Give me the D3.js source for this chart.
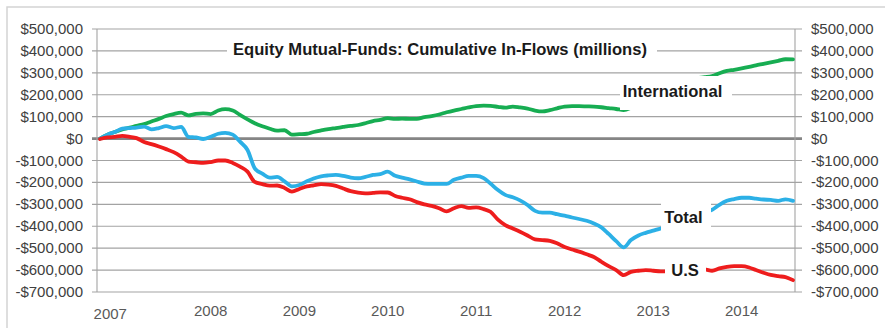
<!DOCTYPE html>
<html><head><meta charset="utf-8">
<script src="https://cdn.jsdelivr.net/npm/d3@7/dist/d3.min.js"></script>
<style>body{margin:0;background:#fff}svg{display:block}</style>
</head><body><svg id="c" width="885" height="328"></svg>
<script>
// ---- data (thousands of $ millions, monthly from Oct 2006) ----
const startMonth = [2006, 9];
const international = [0,18,30,42,50,58,66,78,90,103,112,118,106,113,115,112,128,134,128,108,88,70,56,45,36,38,18,20,22,30,37,43,48,53,58,62,70,80,85,93,90,91,90,90,98,103,110,120,128,135,142,148,150,149,145,141,146,142,137,128,124,130,138,146,148,148,147,146,143,139,135,130,141,160,185,205,225,240,252,262,270,276,280,285,298,309,314,320,327,334,341,348,355,362,361];
const total = [0,18,30,45,48,50,55,42,48,57,48,53,8,5,-2,8,22,26,18,-14,-52,-136,-160,-178,-175,-195,-218,-212,-195,-182,-172,-168,-166,-170,-178,-181,-175,-166,-162,-151,-170,-178,-186,-196,-205,-207,-207,-207,-188,-178,-170,-170,-180,-205,-235,-257,-268,-282,-303,-330,-338,-338,-345,-352,-360,-367,-375,-387,-405,-435,-468,-496,-463,-442,-430,-420,-410,-400,-385,-370,-355,-345,-335,-325,-302,-284,-276,-270,-270,-274,-278,-280,-284,-277,-284];
const us = [-2,5,8,12,8,2,-16,-25,-36,-48,-62,-82,-105,-108,-111,-107,-100,-100,-111,-128,-151,-198,-208,-215,-214,-225,-242,-230,-218,-213,-208,-210,-216,-228,-240,-247,-250,-248,-245,-246,-262,-270,-277,-290,-300,-307,-318,-332,-318,-308,-316,-314,-322,-334,-370,-395,-410,-425,-442,-460,-463,-467,-478,-495,-506,-516,-528,-540,-562,-582,-600,-623,-608,-603,-600,-603,-606,-606,-604,-602,-600,-598,-597,-603,-592,-585,-582,-582,-588,-600,-612,-622,-628,-632,-646];
const yTicks = [500000,400000,300000,200000,100000,0,-100000,-200000,-300000,-400000,-500000,-600000,-700000];
const years = [2007,2008,2009,2010,2011,2012,2013,2014];
const title = "Equity Mutual-Funds: Cumulative In-Flows (millions)";
const seriesNames = ["International","Total","U.S"];

// ---- setup ----
const svg = d3.select("#c");
const L = 97, R = 795, T = 29, B = 292;
const months = total.map((_, i) => new Date(startMonth[0], startMonth[1] + i, 1));
const x = d3.scaleTime().domain([months[0], months[months.length - 1]]).range([100, 793]);
const y = d3.scaleLinear().domain([-700000, 500000]).range([B, T]);
const fmt = v => (v < 0 ? "-" : "") + "$" + d3.format(",")(Math.abs(v));

// outer frame
svg.append("rect").attr("x", 7).attr("y", 7).attr("width", 890).attr("height", 340)
  .attr("fill", "none").attr("stroke", "#d4d4d4").attr("stroke-width", 1.5);

// gridlines
svg.append("g").selectAll("line").data(yTicks.filter(d => d !== 0)).join("line")
  .attr("x1", L - 5).attr("x2", R + 7)
  .attr("y1", d => y(d)).attr("y2", d => y(d))
  .attr("stroke", "#a3a3a3").attr("stroke-width", 1.1);
svg.append("line").attr("x1", L - 5).attr("x2", R + 7).attr("y1", y(0)).attr("y2", y(0))
  .attr("stroke", "#858585").attr("stroke-width", 2.6);
// vertical axes
[L, R].forEach(xx => svg.append("line").attr("x1", xx).attr("x2", xx).attr("y1", T).attr("y2", B)
  .attr("stroke", "#a3a3a3").attr("stroke-width", 1.1));

// y labels
const lab = svg.append("g").attr("font-family", "Liberation Sans, Arial, sans-serif").attr("font-size", 15).attr("fill", "#404040");
lab.selectAll("text.l").data(yTicks).join("text").attr("class", "l")
  .attr("x", 83).attr("y", d => y(d) + 5).attr("text-anchor", "end").text(fmt);
lab.selectAll("text.r").data(yTicks).join("text").attr("class", "r")
  .attr("x", 811).attr("y", d => y(d) + 5).attr("text-anchor", "start").text(fmt);
// x labels (first label pulled toward the axis start)
lab.selectAll("text.x").data(years).join("text").attr("class", "x")
  .attr("x", (d, i) => x(new Date(d, 0, 1)) - (i === 0 ? 12 : 0)).attr("y", (d, i) => i === 0 ? 319 : 316)
  .attr("text-anchor", "middle").attr("fill", "#595959").text(d => d);

// lines
const line = d3.line().x((d, i) => x(months[i])).y(d => y(d * 1000)).curve(d3.curveMonotoneX);
const series = [[international, "#17ad52"], [total, "#2cb0e6"], [us, "#ee1d1d"]];
series.forEach(([s, c]) => svg.append("path").attr("d", line(s)).attr("fill", "none")
  .attr("stroke", c).attr("stroke-width", 3.8).attr("stroke-linejoin", "round").attr("stroke-linecap", "round"));

// labels with white boxes
const boxes = [
  {t: title, x0: 227, x1: 657, y0: 38, y1: 62, tx: 440, ty: 55},
  {t: seriesNames[0], x0: 620, x1: 732, y0: 76, y1: 110, tx: 672.5, ty: 97},
  {t: seriesNames[1], x0: 661, x1: 711, y0: 199, y1: 233, tx: 683.5, ty: 223},
  {t: seriesNames[2], x0: 665, x1: 706, y0: 257, y1: 283, tx: 685, ty: 276}
];
boxes.forEach(b => {
  svg.append("rect").attr("x", b.x0).attr("y", b.y0).attr("width", b.x1 - b.x0).attr("height", b.y1 - b.y0).attr("fill", "#fff");
  svg.append("text").attr("x", b.tx).attr("y", b.ty).attr("text-anchor", "middle")
    .attr("font-family", "Liberation Sans, Arial, sans-serif").attr("font-weight", "bold")
    .attr("font-size", 16.6).attr("fill", "#1a1a1a").text(b.t);
});
</script></body></html>
